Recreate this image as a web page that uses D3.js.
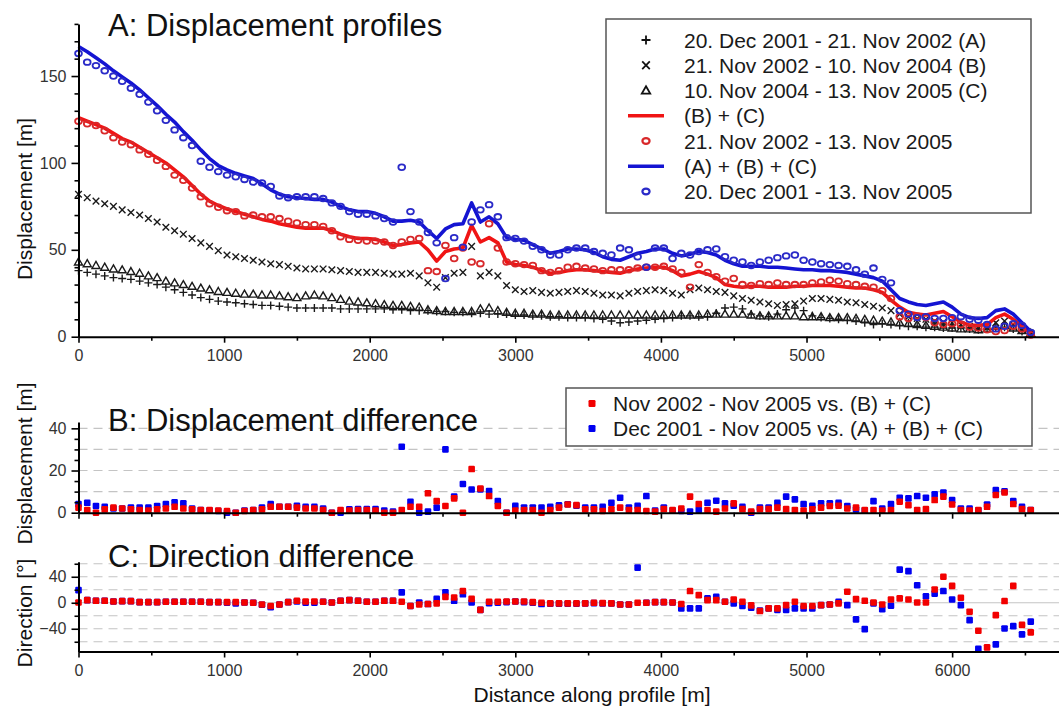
<!DOCTYPE html>
<html><head><meta charset="utf-8">
<script src="https://cdn.jsdelivr.net/npm/d3@7"></script>
<style>
body{margin:0;background:#fff;}
text{font-family:"Liberation Sans", Arial, sans-serif;}
</style>
</head><body>
<svg id="chart" width="1059" height="709"></svg>
<script>
// ---------------- DATA ----------------
const distance = [
0,60,120,180,240,300,360,420,480,540,
600,660,720,780,840,900,960,1020,1080,1140,
1200,1260,1320,1380,1440,1500,1560,1620,1680,1740,
1800,1860,1920,1980,2040,2100,2160,2220,2280,2340,
2400,2460,2520,2580,2640,2700,2760,2820,2880,2940,
3000,3060,3120,3180,3240,3300,3360,3420,3480,3540,
3600,3660,3720,3780,3840,3900,3960,4020,4080,4140,
4200,4260,4320,4380,4440,4500,4560,4620,4680,4740,
4800,4860,4920,4980,5040,5100,5160,5220,5280,5340,
5400,5460,5520,5580,5640,5700,5760,5820,5880,5940,
6000,6060,6120,6180,6240,6300,6360,6420,6480,6540];

// (A) 20 Dec 2001 - 21 Nov 2002  (+)
const periodA = [
38,37,36,35,34,33.5,33,32,31,30,
28.5,27,25.5,24,22.5,21.5,20.5,20,19.5,19,
18.5,18,18,17.5,17,16.5,16.5,16.5,16.5,16.5,
16,16,16,16,16,16,15.5,15.5,15,15,
15,14.5,14.5,14,14,13.5,13.5,13,13,13,
12.5,12.5,12,12,11.5,11.5,11,11,11,10.5,
10,9,8,8.5,9,9.5,10,10.5,11,12,
12,11.5,11.5,13.5,16.5,17,16,13,12,11.5,
13,15.5,16.5,15,12,11,10.5,10,9.5,9,
8,7,7.5,7,6.5,6,6,5.5,5.5,5,
5,5,4.5,4,4.5,5,5.5,4.5,3,2];

// (B) 21 Nov 2002 - 10 Nov 2004  (x)
const periodB = [
82,80,78,76.5,75,73,71.5,70,68,66,
63,61,59,56.5,54,52,49.5,47,46,45,
44,43,42,41.5,40.5,39.5,39,39,39,38.5,
38,37.5,37,37,37,36.5,36,36,36.5,35,
31,28.5,34,36.5,37,52,35,37,35,29.5,
27,26,26.5,25.5,25,25.5,26,26.5,26,25,
24,24,23.5,25,26,26.5,27,26.5,25,24,
27,28,27,26,25.5,23.5,22,21,20,19,
18,18.5,19,20.5,22,22,21.5,21,20,19.5,
18.5,17.5,16.5,15,13,11.5,10.5,10,9,8.5,
8,7,6,5,5,8,9,7,4,2];

// (C) 10 Nov 2004 - 13 Nov 2005  (triangle)
const periodC = [
43,42,41,40,39,38.5,37.5,36.5,35,34,
32,31,30,29,28,27,26,25.5,25,24.5,
24.5,24,24,23.5,23,22.5,23.5,24,23.5,22.5,
21.5,20.5,20,19.5,19,18.5,18,18,17.5,17,
15.5,15,14.5,14.5,14.5,14.5,16,16.5,15,14,
13.5,13.5,13,13,12.5,12.5,12.5,12.5,12.5,12.5,
12.5,12.5,12.5,12.5,12.5,12.5,12.5,12.5,12.5,12.5,
12.5,12.5,13,13,13,13,13,12.5,12,12,
12,12,12,11.5,11.5,11.5,11,11,11,10.5,
10,9.5,9,8.5,8,7.5,7,6.5,6,5.5,
5,4.5,4.5,4,4.5,6,6.5,5,3.5,2];

// (B) + (C) red line
const sumBC = [
126,124,122,120,117,114,112,109,106,103,
100,96,92,87,82,78,75.5,73.5,72,70.5,
69,67.5,66.5,65,64,63,62.5,62.5,62.5,61,
59,57.5,56.5,56.5,56,54.5,52.5,53,54,54.5,
50,43.5,49,50.5,51,64,54.5,57,54,43,
41.5,41,40,38,36.5,37,38,38.5,38.5,38,
37.5,37,36.5,38,39,39.5,40,40,38,35,
36,37.5,36,34,30,29,28.5,29,29,28.5,
28.5,28.5,29,29,29.5,29.5,29.5,29,28.5,28,
28,27,25.5,21,17,14,13,12.5,13.5,14.5,
11.5,8.5,6.5,6.5,7,11,13,10,6,2];

// 21 Nov 2002 - 13 Nov 2005 measured (red circles)
const nov2002nov2005 = [
124,122.5,121.5,118.5,114.5,112,110.5,107.5,105,101.5,
98,93,90,85.5,80.5,76.5,74.5,72.5,72,69.5,
70,69,69,68,66.5,65.5,64.5,64.5,63.5,61,
57.5,56,55.5,55,55,54.5,52.5,54.5,56,56.5,
38,37.5,52.5,45,51,43,42,65,51,43,
42,41.5,41,38,37,38,40,40.5,39.5,39,
38,38.5,38.5,38.5,39.5,40,40,40.5,39,37,
28.5,41.5,37,34.5,32,33.5,30,29.5,30.5,30,
31,30,30,30,31,31.5,32.5,32,30.5,30,
29,28.5,26.5,22,11.5,10.5,12,11,8,7,
7.5,7,5.5,5,4,3,3.5,6,4.5,1];

// (A) + (B) + (C) blue line
const sumABC = [
167,164,160.5,157,153,149.5,146,142,137.5,133,
128,123.5,118,113,107.5,102.5,98.5,96,94,92.5,
91,88,84.5,82,80.5,80,79.5,79,79,77.5,
75,73,72,72,71,69,66.5,66.5,67,66,
61,56.5,62,64.5,65,77,66,69,65,57,
56,55.5,53,50.5,48,49,50.5,50.5,50,48.5,
46,44.5,44,46,48,49,50.5,50.5,48,46.5,
47.5,49,48.5,47,44,42,40.5,40.5,40.5,40,
40,39.5,39,38.5,38.5,38,38,37.5,37,36,
35,34,32,27,22,20,18.5,18,19,20,
17,13,11,10.5,11,15,16,13,8,3];

// 20 Dec 2001 - 13 Nov 2005 measured (blue circles)
const dec2001nov2005 = [
163,158,156,153,150,147,143,139.5,135,130,
124.5,119,114.5,110,101,97.5,95,93,92,90.5,
89,88.5,86.5,81,80,80.5,80.5,80.5,79.5,77,
75,72,70.5,70.5,69.5,68,66,97.5,72,66,
60,54,33.5,57,51.5,66,73,76,69,57,
56.5,55,52,50,47,47,50,51,51,49,
48,47,51,50,46,40,51,51,45,48,
47,49,50,50.5,46,44,43,41,43,44,
45.5,46.5,47,44,43,42,41.5,41,40.5,38.5,
36,39.5,33,31,15,13,11,11.5,10.5,10.5,
11,11.5,10,9.5,7,4.5,6,7.5,6.5,2.5];

// Panel B: displacement difference [m]
const diffRed = [
2.4,1.3,0,1.6,2.4,2,1.6,1.3,1,1.6,
2,2.8,2,1.6,1.3,1.3,1,0.8,0,0.8,
1.3,1.6,2.8,2.8,2.8,2.4,2,2,1.3,0,
1.3,1,1.3,1.3,1,0,0,1.3,2.8,2.8,
9.2,5.5,3.2,6.8,0,20.7,11.5,7.9,3.2,0,
1,1.3,1.3,0,1.3,2.4,3.9,3.6,1.6,1.6,
0.8,1.6,2.4,1.3,1.3,0.8,0.5,1.7,1.3,2,
7.6,4.1,1.3,0.5,2,4.4,1.7,0.5,1.7,1.7,
2.4,1.7,1.3,1,1.6,2.4,3.2,3.3,2,2.4,
1.3,1.3,1,1.3,5.2,3.6,1.3,1.7,6,7.6,
3.9,1.3,1,1.3,2.8,8.4,9.6,4.1,1.7,1.3];

const diffBlue = [
4.1,4.7,3.2,2.8,2,2,2.4,2.4,2.4,3.2,
4.1,4.9,4.4,2,1.3,1,0.8,0,0,1,
1.3,2.4,4.1,2.8,2.8,3.3,2.8,2.8,2,0,
0,1.6,1.7,1.7,1.7,1,0.5,31.3,5.2,0,
0.5,2.4,30,7.6,13.6,11,11,10.3,5.5,0,
3.3,2.5,2.5,2.4,2.8,3.5,4,3.3,2.4,2.4,
2.8,4.7,7.1,2.5,3.3,7.9,1,2.5,1,0.8,
0.5,1.3,4.7,5.7,4.4,3.3,2.8,0,2.4,2.5,
4.7,7.6,6.3,4.1,3.3,4.4,4.4,4.7,3.2,1.6,
1,5.5,2,4.1,7.1,6.8,7.9,7.1,8.7,9.6,
6,2,2,1,3.9,10.7,10.2,5.5,2.8,1.3];

// Panel C: direction difference [deg]
const dirRed = [
0.5,4,3,3,2,2.5,2.5,1,1,1,
1.5,1.5,1.5,1.5,1.5,1,1,1,1,0.5,
0,-2.6,-5,-2.6,1,3,2,2,1.5,0.5,
3,4,3,1.5,1.5,3,3,1.5,-5,-2.6,
-2,-1,9,8,18,6,-11,1.5,1.5,2,
2,2,1,0,-1,-1,-1,-1,-1,0,
-0.5,-1,-2.6,-2.6,0,0,1,1,0.5,-2,
18,11.8,4,4,1.5,5,1.5,-4,-12.8,-8.7,
-8.7,-3.6,1.5,-5,-5,-3.6,-2.6,-1,17,5.6,
3,0.5,-2.6,5,6.7,5,0.5,0.5,20.5,40,
26,7.7,-13.8,-43,-68.7,-19,2.6,26,-34,-45.6];

const dirBlue = [
19.5,4,3,3,2,2.5,2.5,1,1,1,
1.5,1.5,1.5,1.5,1.5,1,1,0,-1,0.5,
0,-3,-6.7,-2.6,1,2,0,0,1.5,0.5,
3,4,3,1.5,1.5,3,3,16,-5,0.5,
-2,6,16,3,13,0.5,-11,-0.5,0,1,
2,1,0,-2,-1.5,-1.5,-1.5,-1.5,-1,-0.5,
-1,-1,-2.6,-2.6,54,0,1,1,0.5,-8.7,
-8.7,-8.7,6.7,9,1.5,-1,-5,-7.7,-12,-8.7,
-11,-11,-8.7,-8.7,-8.7,-3.6,-2.6,1.5,-3.6,-25.6,
-40.5,-1,-10,-4.6,51,48.7,27,10,14,18,
5,-3.6,-26.7,-71,null,-64,-39.5,-36,-48.7,-29];

const xTicksMajor = [0,1000,2000,3000,4000,5000,6000];
const xTicksMinor = [500,1500,2500,3500,4500,5500,6500];
const yTicksA = [0,50,100,150];
const yTicksB = [0,20,40];
const yTicksC = [-40,0,40];
const legendA = [
 "20. Dec 2001 - 21. Nov 2002 (A)",
 "21. Nov 2002 - 10. Nov 2004 (B)",
 "10. Nov 2004 - 13. Nov 2005 (C)",
 "(B) + (C)",
 "21. Nov 2002 - 13. Nov 2005",
 "(A) + (B) + (C)",
 "20. Dec 2001 - 13. Nov 2005"];
const legendB = [
 "Nov 2002 - Nov 2005 vs. (B) + (C)",
 "Dec 2001 - Nov 2005 vs. (A) + (B) + (C)"];

// ---------------- DRAWING ----------------
const RED = "#f01414", BLUE = "#1414d2", RED_C = "#d8282a", BLUE_C = "#2a2ac8";
const SQ_RED = "#f20000", SQ_BLUE = "#0000f0";
const svg = d3.select("#chart");
const x = d3.scaleLinear().domain([0, 6734]).range([78.5, 1059]);
const yA = d3.scaleLinear().domain([0, 180]).range([336.7, 23.9]);
const yB = d3.scaleLinear().domain([0, 43]).range([512.7, 422]);
const yC = d3.scaleLinear().domain([-75, 63]).range([651.5, 561.8]);

function rows(vals){ return distance.map((d,i)=>({x:d, v:vals[i]})).filter(d=>d.v!=null); }

function grid(g, y, vals, solidZero){
  g.selectAll("line.g").data(vals).join("line")
    .attr("x1", x.range()[0]).attr("x2", 1059)
    .attr("y1", d=>y(d)).attr("y2", d=>y(d))
    .attr("stroke", "#c4c4c4").attr("stroke-width", 1.2)
    .attr("stroke-dasharray", d=> (solidZero && d===0) ? null : "9,6");
}

function yAxis(y, major, minor){
  const g = svg.append("g").attr("transform", `translate(${x.range()[0]},0)`);
  g.append("g").call(d3.axisLeft(y).tickValues(minor).tickSize(4).tickFormat("").tickSizeOuter(0))
    .call(s=>s.select(".domain").remove());
  const m = g.append("g").call(d3.axisLeft(y).tickValues(major).tickSize(7).tickPadding(5).tickSizeOuter(0));
  m.select(".domain").attr("stroke-width", 2);
  g.selectAll("line").attr("stroke-width", 1.6);
  m.selectAll("text").attr("font-size", 16).attr("fill", "#333");
}

function xAxis(y0, labels){
  const g = svg.append("g").attr("transform", `translate(0,${y0})`);
  g.append("g").call(d3.axisBottom(x).tickValues(xTicksMinor).tickSize(4).tickFormat("").tickSizeOuter(0))
    .call(s=>s.select(".domain").remove());
  const m = g.append("g").call(d3.axisBottom(x).tickValues(xTicksMajor).tickSize(6).tickPadding(7).tickSizeOuter(0)
      .tickFormat(labels ? d3.format("d") : ""));
  m.select(".domain").attr("stroke-width", 2);
  g.selectAll("line").attr("stroke-width", 1.6);
  m.selectAll("text").attr("font-size", 16).attr("fill", "#333");
}

const plusPath = s => `M${-s},0H${s}M0,${-s}V${s}`;
const crossPath = s => `M${-s},${-s}L${s},${s}M${-s},${s}L${s},${-s}`;
const triPath = s => `M0,${-s}L${s},${s*0.75}L${-s},${s*0.75}Z`;

// ---------- Panel A ----------
const gA = svg.append("g");
function markers(vals, path, y){
  gA.append("g").selectAll("path").data(rows(vals)).join("path")
    .attr("transform", d=>`translate(${x(d.x)},${y(d.v)})`)
    .attr("d", path).attr("fill","none").attr("stroke","#1a1a1a").attr("stroke-width",1.4);
}
markers(periodA, plusPath(4), yA);
markers(periodB, crossPath(3.3), yA);
markers(periodC, triPath(4), yA);

const lineA = d3.line().x(d=>x(d.x)).y(d=>yA(d.v));
gA.append("path").datum(rows(sumBC)).attr("d", lineA).attr("fill","none")
  .attr("stroke", RED).attr("stroke-width", 3.6).attr("stroke-linejoin","round");
gA.append("path").datum(rows(sumABC)).attr("d", lineA).attr("fill","none")
  .attr("stroke", BLUE).attr("stroke-width", 3.6).attr("stroke-linejoin","round");

function ellipses(vals, col){
  gA.append("g").selectAll("ellipse").data(rows(vals)).join("ellipse")
    .attr("cx", d=>x(d.x)).attr("cy", d=>yA(d.v)).attr("rx", 3.4).attr("ry", 2.8)
    .attr("fill","none").attr("stroke", col).attr("stroke-width", 1.8);
}
ellipses(nov2002nov2005, RED_C);
ellipses(dec2001nov2005, BLUE_C);

yAxis(yA, yTicksA, d3.range(0,181,10).filter(v=>v%50));
xAxis(336.7, true);

svg.append("text").attr("x",108).attr("y",36).attr("font-size",31).attr("fill","#111")
  .text("A: Displacement profiles");
svg.append("text").attr("transform","translate(32,199) rotate(-90)").attr("text-anchor","middle")
  .attr("font-size",21).attr("fill","#111").text("Displacement [m]");

// legend A
const lgA = svg.append("g");
lgA.append("rect").attr("x",606).attr("y",19).attr("width",425).attr("height",194)
  .attr("fill","#fff").attr("stroke","#555").attr("stroke-width",1.5);
const lyA = d3.scalePoint().domain(d3.range(legendA.length)).range([40,191.5]);
legendA.forEach((t,i)=>{
  const cy = lyA(i), cx = 646;
  lgA.append("text").attr("x",684).attr("y",cy+7.5).attr("font-size",21).attr("fill","#1a1a1a").text(t);
  if(i<3){
    lgA.append("path").attr("transform",`translate(${cx},${cy})`)
      .attr("d", [plusPath(4.5), crossPath(3.8), triPath(4.2)][i])
      .attr("fill","none").attr("stroke","#111").attr("stroke-width",1.8);
  } else if(i===3 || i===5){
    lgA.append("line").attr("x1",628).attr("x2",664).attr("y1",cy).attr("y2",cy)
      .attr("stroke", i===3?RED:BLUE).attr("stroke-width",3.6);
  } else {
    lgA.append("ellipse").attr("cx",cx).attr("cy",cy).attr("rx",3.6).attr("ry",2.9)
      .attr("fill","none").attr("stroke", i===4?RED_C:BLUE_C).attr("stroke-width",2.2);
  }
});

// ---------- Panel B ----------
const gB = svg.append("g");
grid(gB, yB, [10,20,30,40], false);
function squares(g, vals, y, col){
  g.append("g").selectAll("rect").data(rows(vals)).join("rect")
    .attr("x", d=>x(d.x)-3.3).attr("y", d=>y(d.v)-3.3).attr("width",6.6).attr("height",6.6)
    .attr("rx",1.2).attr("fill", col);
}
squares(gB, diffBlue, yB, SQ_BLUE);
squares(gB, diffRed, yB, SQ_RED);
yAxis(yB, yTicksB, [5,10,15,25,30,35]);
xAxis(512.7, false);
svg.append("text").attr("x",108).attr("y",430.5).attr("font-size",31).attr("fill","#111")
  .text("B: Displacement difference");
svg.append("text").attr("transform","translate(32,463.5) rotate(-90)").attr("text-anchor","middle")
  .attr("font-size",21).attr("fill","#111").text("Displacement [m]");

const lgB = svg.append("g");
lgB.append("rect").attr("x",566).attr("y",388).attr("width",466).attr("height",58)
  .attr("fill","#fff").attr("stroke","#555").attr("stroke-width",1.5);
legendB.forEach((t,i)=>{
  const cy = 403.5 + i*25;
  lgB.append("rect").attr("x",588.5).attr("y",cy-3.5).attr("width",7).attr("height",7).attr("rx",1.2)
    .attr("fill", i===0?SQ_RED:SQ_BLUE);
  lgB.append("text").attr("x",613).attr("y",cy+7.5).attr("font-size",21).attr("fill","#1a1a1a").text(t);
});

// ---------- Panel C ----------
const gC = svg.append("g");
grid(gC, yC, [-60,-40,-20,0,20,40,60], true);
const clipC = svg.append("clipPath").attr("id","clipC").append("rect")
  .attr("x",70).attr("y",555).attr("width",990).attr("height",yC(-75)-555+3);
const gCd = gC.append("g").attr("clip-path","url(#clipC)");
squares(gCd, dirBlue, yC, SQ_BLUE);
squares(gCd, dirRed, yC, SQ_RED);
yAxis(yC, yTicksC, [-60,-20,20,60]);
xAxis(yC(-75), true);
svg.append("text").attr("x",108).attr("y",566.5).attr("font-size",31).attr("fill","#111")
  .text("C: Direction difference");
svg.append("text").attr("transform","translate(32,613) rotate(-90)").attr("text-anchor","middle")
  .attr("font-size",21).attr("fill","#111").text("Direction [°]");
svg.append("text").attr("x",592).attr("y",702).attr("text-anchor","middle")
  .attr("font-size",21).attr("fill","#111").text("Distance along profile [m]");
</script>
</body></html>
